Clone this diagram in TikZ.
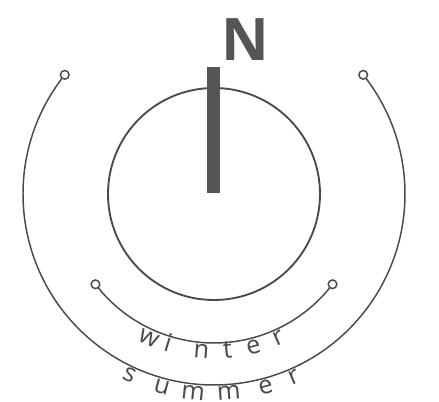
\documentclass[tikz,border=0pt]{standalone}
\usepackage{fontspec}
\setsansfont{Open Sans}
\usepackage{xcolor}
\usetikzlibrary{positioning}
\definecolor{dialgray}{HTML}{4A4A4A}
\definecolor{needlegray}{HTML}{555555}

\begin{document}
\begin{tikzpicture}[x=0.75pt, y=0.75pt,
    ring/.style={draw=dialgray, line width=1.1pt},
    pin/.style={circle, draw=dialgray, fill=white, line width=1.1pt,
                minimum size=6.5pt, inner sep=0pt},
    lett/.style={font=\sffamily\fontsize{19}{19}\selectfont, text=dialgray,
                 anchor=base, inner sep=0pt}
]
\useasboundingbox (0,0) rectangle (439,402);
\coordinate (c) at (214,208);

% Dial and needle
\node[circle, draw=dialgray, line width=1.4pt, minimum size=159pt, inner sep=0pt] (dial) at (c) {};
\node[fill=needlegray, minimum width=9.75pt, minimum height=94.5pt, inner sep=0pt] (needle) at (213.5,272) {};
\node[font=\sffamily\bfseries\fontsize{44}{44}\selectfont, text=needlegray,
      anchor=base, inner sep=0pt] (north) at (245,341) {N};

% Arc end points
\coordinate (sl) at ([shift={(141.4:191)}]c);
\coordinate (sr) at ([shift={(38.6:191)}]c);
\coordinate (wl) at ([shift={(217.3:149)}]c);
\coordinate (wr) at ([shift={(322.7:149)}]c);

% Season arcs
\draw[ring] (sl) arc[start angle=141.4, end angle=398.6, radius=191];
\draw[ring] (wl) arc[start angle=217.3, end angle=322.7, radius=149];
\node[pin] (slpin) at (sl) {};
\node[pin] (srpin) at (sr) {};
\node[pin] (wlpin) at (wl) {};
\node[pin] (wrpin) at (wr) {};

% Letters along the arcs
\foreach \ch/\a in {w/245.6, i/253, n/265.4, t/275, e/284.5, r/294}
  \node[lett, rotate=\a+90] at ([shift={(\a:165)}]c) {\ch};
\foreach \ch/\a in {s/245.2, u/254.9, m/264, m/274.3, e/285, r/293.6}
  \node[lett, rotate=\a+90] at ([shift={(\a:206.5)}]c) {\ch};

\end{tikzpicture}
\end{document}
